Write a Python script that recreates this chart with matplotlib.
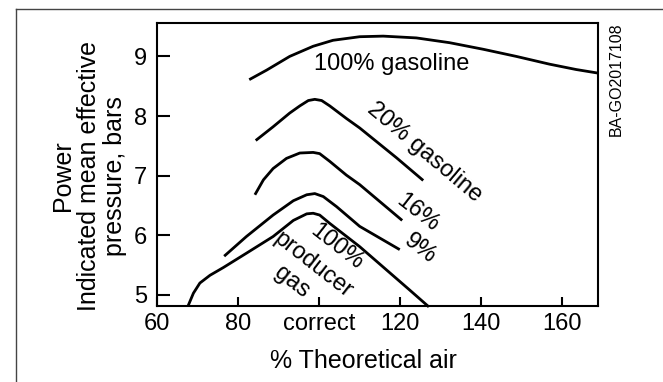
import matplotlib
matplotlib.use("Agg")
import matplotlib.pyplot as plt
from matplotlib.lines import Line2D

plt.rcParams['font.family'] = ['Liberation Sans', 'DejaVu Sans']

# curves (% theoretical air, imep in bars)
gas100_x = [82.8, 87.1, 92.8, 98.6, 103.5, 110.1, 115.9, 124.1, 132.3, 140.6, 148.8, 157.0, 163.6, 169.0]
gas100_y = [8.61, 8.77, 9.00, 9.17, 9.27, 9.33, 9.34, 9.31, 9.23, 9.12, 9.00, 8.87, 8.78, 8.72]

gas20_x = [84.4, 88.7, 92.8, 95.3, 97.4, 99.0, 100.7, 102.7, 106.8, 110.1, 119.2, 125.8]
gas20_y = [7.59, 7.82, 8.05, 8.17, 8.26, 8.28, 8.26, 8.17, 7.96, 7.80, 7.30, 6.92]

gas16_x = [84.2, 86.3, 88.7, 92.0, 95.3, 98.6, 100.2, 102.7, 106.8, 110.1, 120.6]
gas16_y = [6.68, 6.93, 7.12, 7.29, 7.38, 7.39, 7.37, 7.24, 7.01, 6.85, 6.25]

gas9_x = [76.6, 82.1, 88.7, 93.7, 97.0, 99.0, 101.1, 104.4, 110.1, 120.0]
gas9_y = [5.65, 5.98, 6.34, 6.58, 6.68, 6.70, 6.65, 6.48, 6.15, 5.76]

prod_x = [67.7, 69.0, 70.6, 73.1, 76.4, 82.1, 88.7, 93.7, 97.0, 98.6, 100.2, 102.7, 110.1, 122.5, 127.2]
prod_y = [4.82, 5.03, 5.20, 5.33, 5.46, 5.70, 5.98, 6.25, 6.36, 6.37, 6.34, 6.20, 5.81, 5.08, 4.80]

x_ticks = [60, 80, 100, 120, 140, 160]
x_tick_labels = ['60', '80', 'correct', '120', '140', '160']
y_ticks = [5, 6, 7, 8, 9]

fig = plt.figure(figsize=(6.63, 3.82), dpi=100)
ax = fig.add_axes([157 / 663, 1 - 306 / 382, 441 / 663, 283 / 382])

for xs, ys in [(gas100_x, gas100_y), (gas20_x, gas20_y), (gas16_x, gas16_y),
               (gas9_x, gas9_y), (prod_x, prod_y)]:
    ax.plot(xs, ys, color='black', lw=2.0, solid_capstyle='butt',
            solid_joinstyle='round', clip_on=False)

ax.set_xlim(60, 169)
ax.set_ylim(4.815, 9.56)
ax.set_xticks(x_ticks)
ax.set_xticklabels(x_tick_labels)
ax.set_yticks(y_ticks)
ax.tick_params(axis='x', direction='in', length=6.5, width=1.5, pad=5, labelsize=17)
ax.tick_params(axis='y', direction='in', length=9, width=1.5, pad=7, labelsize=17)
for s in ax.spines.values():
    s.set_linewidth(1.5)

# curve labels
fs = 17
ax.text(118, 8.88, '100% gasoline', fontsize=fs, ha='center', va='center')
ax.text(126.2, 7.40, '20% gasoline', fontsize=fs, ha='center', va='center',
        rotation=-40, rotation_mode='anchor')
ax.text(124.5, 6.37, '16%', fontsize=fs, ha='center', va='center',
        rotation=-38, rotation_mode='anchor')
ax.text(124.9, 5.78, '9%', fontsize=fs, ha='center', va='center',
        rotation=-38, rotation_mode='anchor')
ax.text(104.4, 5.81, '100%', fontsize=fs, ha='center', va='center',
        rotation=-38, rotation_mode='anchor')
ax.text(98.6, 5.50, 'producer', fontsize=fs, ha='center', va='center',
        rotation=-38, rotation_mode='anchor')
ax.text(93.3, 5.22, 'gas', fontsize=fs, ha='center', va='center',
        rotation=-38, rotation_mode='anchor')

fig.text(363 / 663, 1 - 361 / 382, '% Theoretical air', fontsize=18,
         ha='center', va='center')
fig.text(89 / 663, 1 - 176 / 382, 'Power\nIndicated mean effective\npressure, bars',
         fontsize=18, ha='center', va='center', rotation=90, multialignment='center',
         linespacing=1.1)
fig.text(616 / 663, 1 - 79 / 382, 'BA-GO2017108', fontsize=11.5,
         ha='center', va='center', rotation=90)

# thin frame around the figure (left and top edges visible)
fig.add_artist(Line2D([16 / 663, 16 / 663], [0, 1 - 9 / 382], color='#444444', lw=1.0))
fig.add_artist(Line2D([16 / 663, 1], [1 - 9 / 382, 1 - 9 / 382], color='#444444', lw=1.0))

fig.savefig('out.png', dpi=100)
